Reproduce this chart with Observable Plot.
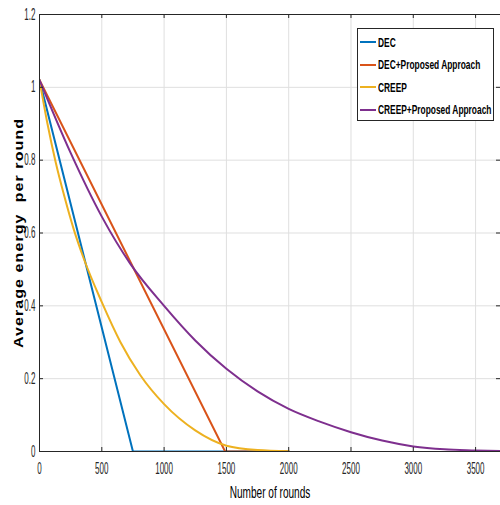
<!DOCTYPE html>
<html>
<head>
<meta charset="utf-8">
<script src="https://cdn.jsdelivr.net/npm/d3@7"></script>
<script src="https://cdn.jsdelivr.net/npm/@observablehq/plot@0.6"></script>
<style>
  html, body { margin: 0; padding: 0; background: #fff; overflow: hidden; }
  #wrap { position: relative; width: 500px; height: 505px; }
  #legend {
    position: absolute; left: 357px; top: 28px; width: 137px; height: 93px;
    border: 1px solid #262626; background: #fff; box-sizing: border-box;
    padding-top: 2px;
  }
  .item { height: 22.5px; display: flex; align-items: center; white-space: nowrap; }
  .swatch { width: 16px; height: 2px; margin-left: 2px; margin-right: 2px; flex: none; }
  .lab { font-family: "Liberation Sans", Arial, sans-serif; font-weight: bold; font-size: 13.5px; color: #000;
         display: inline-block; transform: scaleX(0.62); transform-origin: left center; }
</style>
</head>
<body>
<div id="wrap"></div>
<script>
const seriesNames = ["DEC", "DEC+Proposed Approach", "CREEP", "CREEP+Proposed Approach"];
const seriesColors = ["#0072BD", "#D95319", "#EDB120", "#7E2F8E"];

const decX = [0, 750, 2000];
const decY = [1.02, 0, 0];

const decPaX = [0, 1490, 2000];
const decPaY = [1.02, 0, 0];

const creepX = [0, 64, 128, 200, 275, 355, 500, 650, 808, 1000, 1250, 1500, 1750, 2000];
const creepY = [1.02, 0.90, 0.797, 0.70, 0.61, 0.53, 0.41, 0.30, 0.21, 0.13, 0.058, 0.016, 0.004, 0.001];

const creepPaX = [0, 250, 500, 728, 1000, 1250, 1500, 1750, 2000, 2250, 2500, 2750, 3000, 3250, 3500, 3700];
const creepPaY = [1.02, 0.82, 0.645, 0.516, 0.40, 0.305, 0.227, 0.165, 0.117, 0.082, 0.053, 0.03, 0.014, 0.006, 0.003, 0.001];

const xTicks = [0, 500, 1000, 1500, 2000, 2500, 3000, 3500];
const yTicks = [0, 0.2, 0.4, 0.6, 0.8, 1, 1.2];
const yTickLabels = ["0", "0.2", "0.4", "0.6", "0.8", "1", "1.2"];

const xLabel = "Number of rounds";
const yLabel = "Average energy  per round";

const toRows = (s, xsArr, ysArr) => xsArr.map((x, j) => ({series: s, x, y: ysArr[j]}));
const decData = toRows(seriesNames[0], decX, decY);
const decPaData = toRows(seriesNames[1], decPaX, decPaY);
const creepData = toRows(seriesNames[2], creepX, creepY);
const creepPaData = toRows(seriesNames[3], creepPaX, creepPaY);

const X0 = 0, X1 = 3700, Y0 = 0, Y1 = 1.2;
const axisColor = "#262626";
const gridColor = "#dfdfdf";
const tickLenX = (X1 - X0) / 461 * 4;
const tickLenY = (Y1 - Y0) / 437 * 4;

const lineOpts = (curve) => ({x: "x", y: "y", stroke: "series", strokeWidth: 2, curve, clip: true});

const chart = Plot.plot({
  width: 500,
  height: 505,
  marginLeft: 39,
  marginRight: 0,
  marginTop: 14,
  marginBottom: 54,
  style: {fontFamily: '"Liberation Sans", Arial, sans-serif', fontSize: "16px", color: axisColor, background: "#fff"},
  x: {domain: [X0, X1]},
  y: {domain: [Y0, Y1]},
  color: {domain: seriesNames, range: seriesColors},
  marks: [
    Plot.ruleX(xTicks.filter(d => d > 0), {stroke: gridColor, strokeWidth: 1}),
    Plot.ruleY(yTicks.filter(d => d > 0 && d < Y1), {stroke: gridColor, strokeWidth: 1}),
    Plot.line(decData, lineOpts("linear")),
    Plot.line(decPaData, lineOpts("linear")),
    Plot.line(creepData, lineOpts("monotone-x")),
    Plot.line(creepPaData, lineOpts("monotone-x")),
    // frame
    Plot.ruleX([X0], {stroke: axisColor, strokeWidth: 1}),
    Plot.ruleY([Y0], {stroke: axisColor, strokeWidth: 1}),
    Plot.ruleY([Y1], {stroke: axisColor, strokeWidth: 1}),
    // inward ticks
    Plot.ruleX(xTicks, {y1: Y0, y2: Y0 + tickLenY, stroke: axisColor}),
    Plot.ruleX(xTicks, {y1: Y1, y2: Y1 - tickLenY, stroke: axisColor}),
    Plot.ruleY(yTicks, {x1: X0, x2: X0 + tickLenX, stroke: axisColor}),
    Plot.ruleY(yTicks, {x1: X1, x2: X1 - tickLenX, stroke: axisColor}),
    Plot.axisX(xTicks, {tickSize: 0, tickPadding: 11, fontSize: 16, label: null, tickFormat: d => String(d), className: "xt"}),
    Plot.axisY(yTicks, {tickSize: 0, tickPadding: 4, fontSize: 16, label: null, tickFormat: (d, i) => yTickLabels[i], className: "yt"}),
    Plot.text([xLabel], {frameAnchor: "bottom", dy: 46, text: d => d, fontSize: 16, fill: "#000", className: "xl"}),
    Plot.text([yLabel], {frameAnchor: "left", dx: -21, rotate: -90, textAnchor: "middle", text: d => d, fontSize: 16, fontWeight: "bold", fill: "#000", className: "yl"})
  ]
});

const wrap = document.getElementById("wrap");
wrap.appendChild(chart);

// condense texts horizontally (reference uses a very narrow face)
function condense(sel, k) {
  d3.select(chart).selectAll(sel).each(function() {
    const len = this.getComputedTextLength();
    this.setAttribute("textLength", (len * k).toFixed(2));
    this.setAttribute("lengthAdjust", "spacingAndGlyphs");
  });
}
condense(".xt text", 0.5);
condense(".yt text", 0.5);
condense(".xl text", 0.63);
d3.select(chart).selectAll(".yl text").each(function() {
  this.style.letterSpacing = "1.1px";
  this.style.whiteSpace = "pre";
  const t = this.getAttribute("transform") || "";
  this.setAttribute("transform", t + " scale(1,0.8)");
});

const legend = document.createElement("div");
legend.id = "legend";
seriesNames.forEach((s, i) => {
  const item = document.createElement("div");
  item.className = "item";
  const sw = document.createElement("span");
  sw.className = "swatch";
  sw.style.background = seriesColors[i];
  const lab = document.createElement("span");
  lab.className = "lab";
  lab.textContent = s;
  item.appendChild(sw);
  item.appendChild(lab);
  legend.appendChild(item);
});
wrap.appendChild(legend);
</script>
</body>
</html>
